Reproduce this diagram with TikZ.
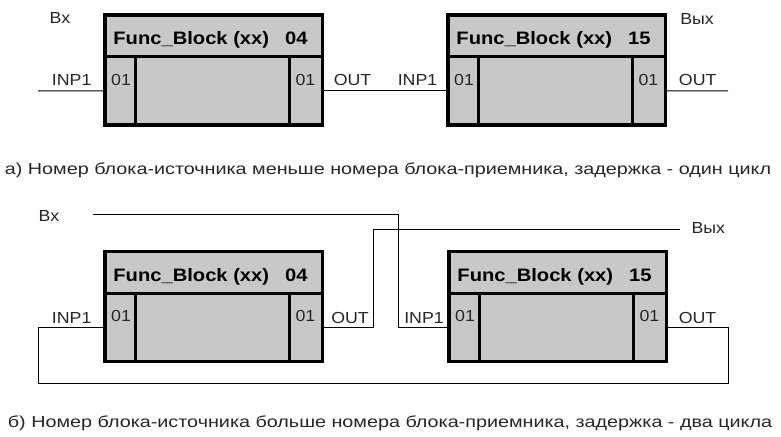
\documentclass[tikz,border=0pt]{standalone}
\usepackage{fontspec}
\setmainfont{Liberation Sans}[FakeStretch=1.11]
\newfontfamily\headfont{Liberation Sans}[FakeStretch=1.12]
\newfontfamily\capfont{Liberation Sans}[FakeStretch=1.235]
\definecolor{blkgray}{RGB}{200,200,200}
\tikzset{
  blk/.style={draw=black, fill=blkgray, line width=3.3pt, rectangle, inner sep=0pt, outer sep=0pt},
  wire/.style={draw=black, line width=1pt},
  lbl/.style={inner sep=0pt, text=black!85, font=\fontsize{16}{18}\selectfont},
  head/.style={inner sep=0pt, font=\headfont\fontsize{18}{20}\selectfont\bfseries},
  captext/.style={inner sep=0pt, text=black!85, font=\capfont\fontsize{16}{18}\selectfont},
}
\newcommand\fblock[4]{%
  \node[blk, minimum width=217.5pt, minimum height=110pt, anchor=north west] (#1) at (#2,#3) {};
  \node[blk, minimum width=217.5pt, minimum height=41.7pt, anchor=north west] (#1h) at (#2,#3) {};
  \node[blk, minimum width=30.5pt, minimum height=68.3pt, anchor=north west] (#1i) at ({#2},{#3+41.7}) {};
  \node[blk, minimum width=33pt, minimum height=68.3pt, anchor=north east] (#1o) at ({#2+217.5},{#3+41.7}) {};
  \node[head, anchor=base] (#1t) at ({#2+105.5},{#3+29.5}) {Func\_Block (xx)\hspace{16pt}#4};
  \node[lbl, anchor=base west] (#1il) at ({#2+6},{#3+70}) {01};
  \node[lbl, anchor=base east] (#1ol) at ({#2+217.5-7},{#3+70}) {01};
}
\begin{document}
\begin{tikzpicture}[x=1pt,y=-1pt]
\useasboundingbox (0,0) rectangle (781,436);
\coordinate (inA) at (38,91);
\coordinate (outB) at (728,91);
\coordinate (inC) at (93,214);
\coordinate (outD) at (680,229);
\fblock{A}{105}{15}{04}
\fblock{B}{448}{15}{15}
\fblock{C}{105}{251.5}{04}
\fblock{D}{449}{251.5}{15}
\draw[wire] (inA) -- (Ai.west);
\draw[wire] (Ao.east) -- (Bi.west);
\draw[wire] (Bo.east) -- (outB);
\draw[wire] (inC) -- (398,214) |- (Di.west);
\draw[wire] (Co.east) -| (373,229) -- (outD);
\draw[wire] (Do.east) -| (728,383) -| ([xshift=-67pt]Ci.west) -- (Ci.west);
% labels
\node[lbl, anchor=base] (l1) at (60,23.3) {Вх};
\node[lbl, anchor=base] (l2) at (71.7,85) {INP1};
\node[lbl, anchor=base] (l3) at (352.5,85) {OUT};
\node[lbl, anchor=base] (l4) at (417.5,85) {INP1};
\node[lbl, anchor=base] (l5) at (697.7,85) {OUT};
\node[lbl, anchor=base] (l6) at (697,25) {Вых};
\node[captext, anchor=base] (capa) at (388,174) {а) Номер блока-источника меньше номера блока-приемника, задержка - один цикл};
\node[lbl, anchor=base] (m1) at (49,221.7) {Вх};
\node[lbl, anchor=base] (m2) at (71.7,323.3) {INP1};
\node[lbl, anchor=base] (m3) at (350,323.3) {OUT};
\node[lbl, anchor=base] (m4) at (424,323.3) {INP1};
\node[lbl, anchor=base] (m5) at (697.5,323.3) {OUT};
\node[lbl, anchor=base] (m6) at (708.3,233.3) {Вых};
\node[captext, anchor=base] (capb) at (390,427) {б) Номер блока-источника больше номера блока-приемника, задержка - два цикла};
\end{tikzpicture}
\end{document}
